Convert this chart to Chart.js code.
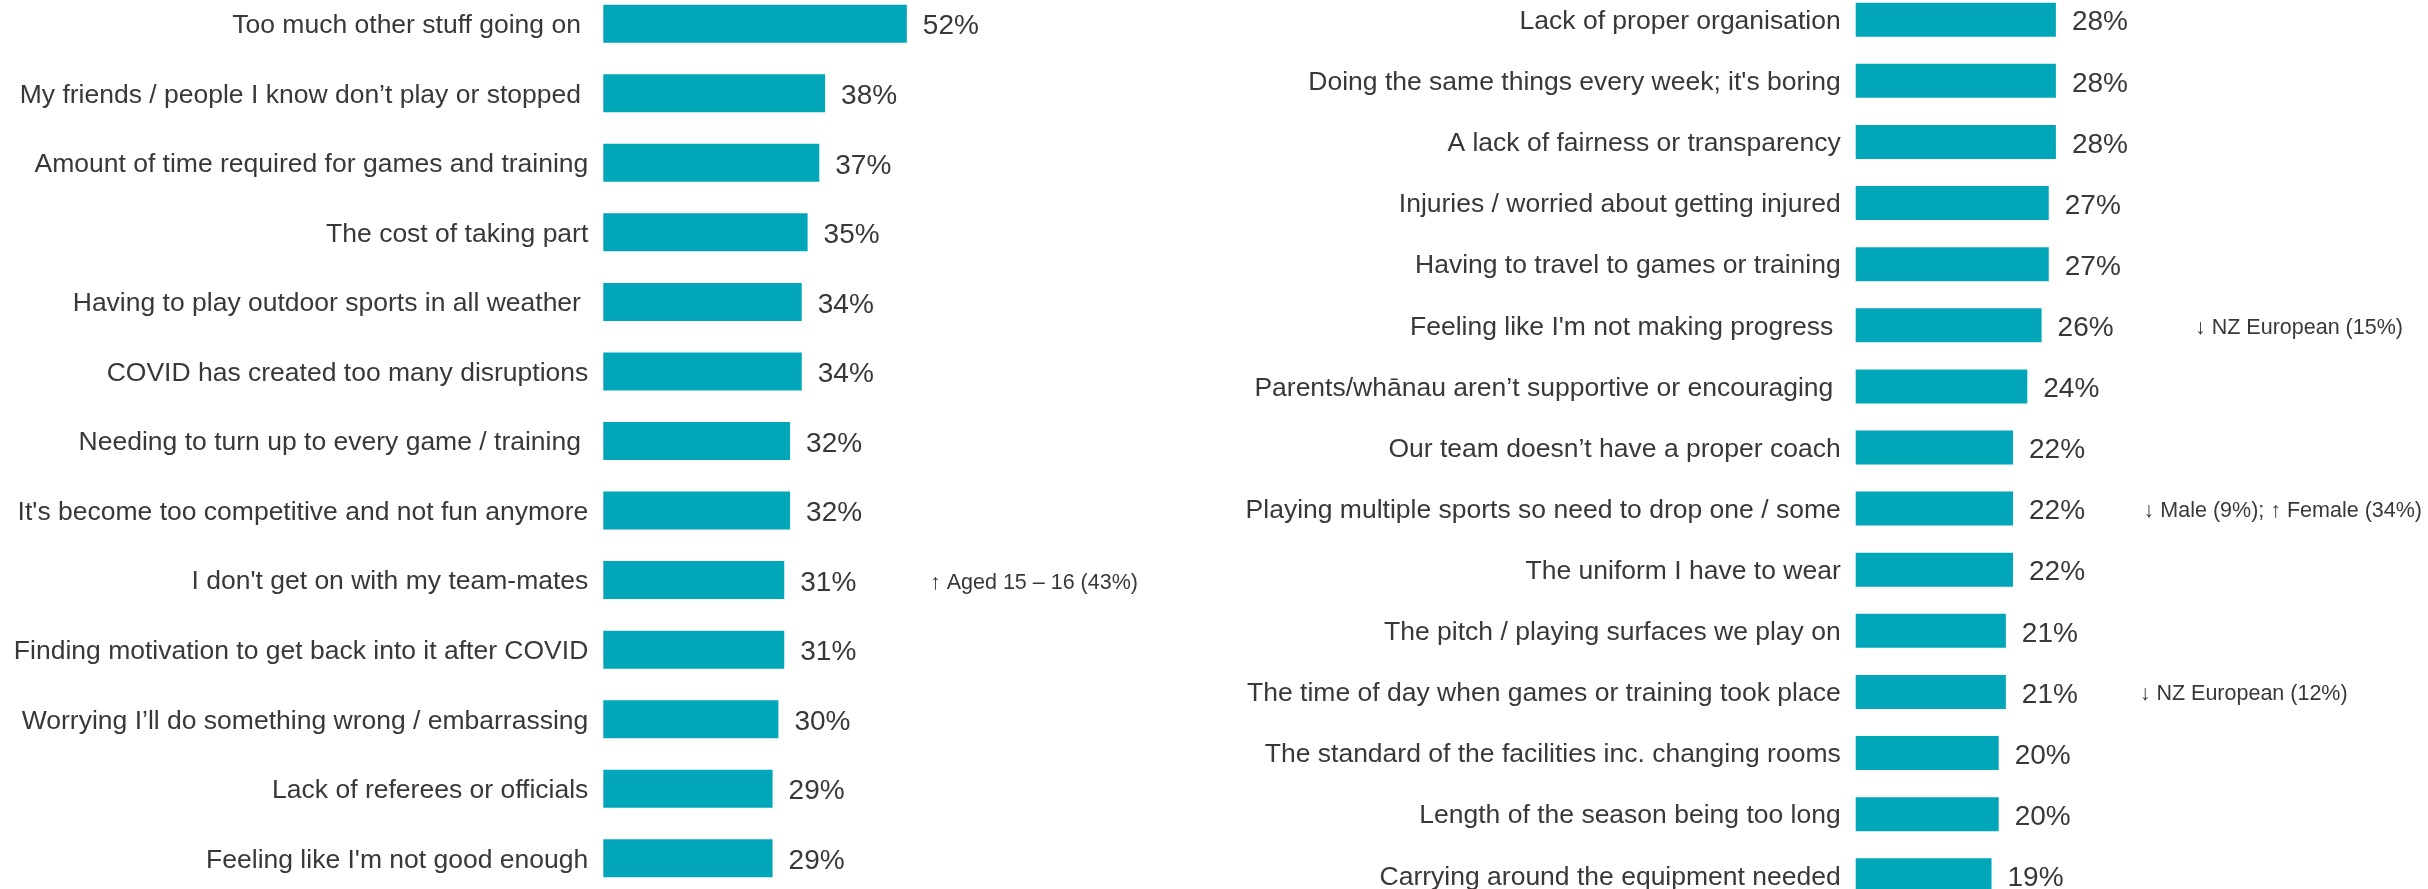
<!DOCTYPE html>
<html>
<head>
<meta charset="utf-8">
<script src="https://cdn.jsdelivr.net/npm/chart.js@4/dist/chart.umd.min.js"></script>
<style>
  html, body { margin: 0; padding: 0; background: #fff; overflow: hidden; }
  .panel { position: absolute; top: 0; height: 889px; }
  #leftPanel { left: 0; width: 1200px; }
  #rightPanel { left: 1200px; width: 1228px; }
</style>
</head>
<body>
<div class="panel" id="leftPanel"><canvas id="leftChart"></canvas></div>
<div class="panel" id="rightPanel"><canvas id="rightChart"></canvas></div>
<script>
const leftLabels = [
  'Too much other stuff going on ',
  'My friends / people I know don’t play or stopped ',
  'Amount of time required for games and training',
  'The cost of taking part',
  'Having to play outdoor sports in all weather ',
  'COVID has created too many disruptions',
  'Needing to turn up to every game / training ',
  "It's become too competitive and not fun anymore",
  "I don't get on with my team-mates",
  'Finding motivation to get back into it after COVID',
  'Worrying I’ll do something wrong / embarrassing',
  'Lack of referees or officials',
  "Feeling like I'm not good enough"
];
const leftValues = [52, 38, 37, 35, 34, 34, 32, 32, 31, 31, 30, 29, 29];
const leftNotes = ['', '', '', '', '', '', '', '', '↑ Aged 15 – 16 (43%)', '', '', '', ''];

const rightLabels = [
  'Lack of proper organisation',
  "Doing the same things every week; it's boring",
  'A lack of fairness or transparency',
  'Injuries / worried about getting injured',
  'Having to travel to games or training',
  "Feeling like I'm not making progress ",
  'Parents/whānau aren’t supportive or encouraging ',
  'Our team doesn’t have a proper coach',
  'Playing multiple sports so need to drop one / some',
  'The uniform I have to wear',
  'The pitch / playing surfaces we play on',
  'The time of day when games or training took place',
  'The standard of the facilities inc. changing rooms',
  'Length of the season being too long',
  'Carrying around the equipment needed'
];
const rightValues = [28, 28, 28, 27, 27, 26, 24, 22, 22, 22, 21, 21, 20, 20, 19];
const rightNotes = ['', '', '', '', '', '↓ NZ European (15%)', '', '',
  '↓ Male (9%); ↑ Female (34%)', '', '', '↓ NZ European (12%)', '', '', ''];

const BAR = '#02a6b9';
const TEXT = '#383838';
const FONT = "'Liberation Sans', Arial, sans-serif";

// writes "NN%" after each bar and the subgroup notes further right
const barText = {
  id: 'barText',
  afterDatasetsDraw(chart, args, opts) {
    const ctx = chart.ctx;
    const meta = chart.getDatasetMeta(0);
    const values = chart.data.datasets[0].data;
    const yScale = chart.scales.y;
    ctx.save();
    ctx.fillStyle = TEXT;
    ctx.textBaseline = 'middle';
    ctx.textAlign = 'left';
    ctx.font = '28px ' + FONT;
    meta.data.forEach((bar, i) => {
      ctx.fillText(values[i] + '%', bar.x + 16, bar.y + 3);
    });
    ctx.font = '21.5px ' + FONT;
    opts.notes.forEach((txt, i) => {
      if (!txt) return;
      ctx.fillText(txt, opts.noteX[i], yScale.getPixelForValue(i) + 2.5);
    });
    ctx.restore();
  }
};

function makeChart(id, labels, values, notes, cfg) {
  return new Chart(document.getElementById(id), {
    type: 'bar',
    data: {
      labels: labels,
      datasets: [{
        data: values,
        backgroundColor: BAR,
        borderWidth: 0,
        barPercentage: 1,
        categoryPercentage: cfg.share,
        clip: false
      }]
    },
    options: {
      indexAxis: 'y',
      responsive: true,
      maintainAspectRatio: false,
      animation: false,
      layout: { padding: cfg.padding },
      plugins: {
        legend: { display: false },
        tooltip: { enabled: false },
        barText: { notes: notes, noteX: cfg.noteX }
      },
      scales: {
        x: { display: false, min: 0, max: cfg.max },
        y: {
          offset: false,
          grid: { display: false, drawTicks: false },
          border: { display: false },
          ticks: {
            padding: 15,
            labelOffset: 2,
            autoSkip: false,
            color: TEXT,
            font: { family: FONT, size: 26.5 }
          },
          afterFit(scale) {
            scale.width = cfg.axisWidth;
            // first/last rows sit on the area edges; no extra room for their labels
            scale.paddingTop = 0;
            scale.paddingBottom = 0;
          }
        }
      }
    },
    plugins: [barText]
  });
}

makeChart('leftChart', leftLabels, leftValues, leftNotes, {
  max: 100,
  share: 0.546,
  axisWidth: 603.3,
  padding: { top: 23.7, bottom: 30.7, left: 0, right: 13 },
  noteX: { 8: 930 }
});

makeChart('rightChart', rightLabels, rightValues, rightNotes, {
  max: 80,
  share: 0.556,
  axisWidth: 655.7,
  padding: { top: 19.7, bottom: 13.7, left: 0, right: 0.3 },
  noteX: { 5: 995, 8: 943.6, 11: 939.7 }
});
</script>
</body>
</html>
